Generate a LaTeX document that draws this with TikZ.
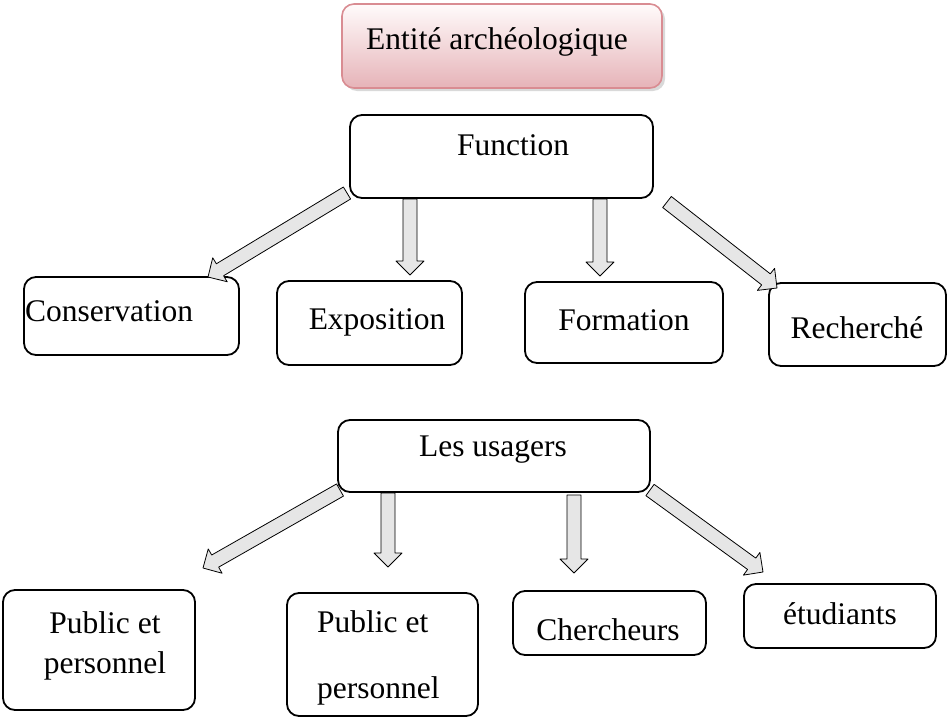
\documentclass[tikz,border=0pt]{standalone}
\usepackage{fontspec}
\setmainfont{Liberation Serif}
\usetikzlibrary{calc,fit,shadows}
\definecolor{TitleLine}{HTML}{D98C92}
\definecolor{TitleTop}{HTML}{FFFBFB}
\definecolor{TitleBottom}{HTML}{E6B3B8}
\definecolor{ArrowFill}{HTML}{E6E6E6}

\begin{document}
\begin{tikzpicture}[
  x=1pt,
  y=-1pt,
  line join=round,
  box/.style={draw=black,line width=1.8pt,rounded corners=12pt,inner sep=0pt},
  title box/.style={draw=TitleLine,line width=1.6pt,rounded corners=12pt,
    inner sep=0pt,top color=TitleTop,bottom color=TitleBottom,
    drop shadow={shadow xshift=3pt,shadow yshift=-3pt,opacity=0.3}},
  box text/.style={font=\fontsize{31.5}{40}\selectfont,inner sep=0pt},
  block arrow/.style={fill=ArrowFill,draw=black,line width=0.8pt}
]
\useasboundingbox (0,0) rectangle (948,718);

% Hollow block arrow from #1 (tail) to #2 (tip).
\def\ShaftW{7pt}
\def\HeadW{14pt}
\def\HeadL{14pt}
\newcommand{\DrawBlockArrow}[2]{%
  \coordinate (hb) at ($(#2)!\HeadL!(#1)$);
  \path[block arrow]
    ($(#1)!\ShaftW!90:(#2)$) -- ($(hb)!\ShaftW!90:(#2)$)
    -- ($(hb)!\HeadW!90:(#2)$) -- (#2)
    -- ($(hb)!\HeadW!-90:(#2)$) -- ($(hb)!\ShaftW!-90:(#2)$)
    -- ($(#1)!\ShaftW!-90:(#2)$) -- cycle;%
}

% Title.
\node[title box,fit={(342,4) (662,88)}] (title) {};
\node[box text,anchor=base] (title-t) at (497,49) {Entité archéologique};

% Function and its four branches.
\node[box,fit={(350,115) (653,198)}] (fun) {};
\node[box text,anchor=base] (fun-t) at (513,155) {Function};

\node[box,fit={(24,277) (239,355)}] (cons) {};
\node[box text,anchor=base west] (cons-t) at (25,321) {Conservation};
\node[box,fit={(277,281) (462,365)}] (expo) {};
\node[box text,anchor=base] (expo-t) at (377,329) {Exposition};
\node[box,fit={(525,282) (723,363)}] (form) {};
\node[box text,anchor=base] (form-t) at (624,330) {Formation};
\node[box,fit={(769,283) (946,366)}] (rech) {};
\node[box text,anchor=base] (rech-t) at (857,338) {Recherché};

% Users and their four branches.
\node[box,fit={(338,420) (650,492)}] (usag) {};
\node[box text,anchor=base] (usag-t) at (493,456) {Les usagers};

\node[box,fit={(3,590) (195,710)}] (pub1) {};
\node[box text,align=center] (pub1-t) at (105,646) {Public et\\personnel};
\node[box,fit={(287,593) (478,716)}] (pub2) {};
\node[box text,align=left,anchor=west] (pub2-t) at (317,658)
  {Public et\\[26pt]personnel};
\node[box,fit={(513,591) (706,655)}] (cher) {};
\node[box text,anchor=base] (cher-t) at (608,640) {Chercheurs};
\node[box,fit={(744,584) (936,648)}] (etud) {};
\node[box text,anchor=base] (etud-t) at (840,624) {étudiants};

% Arrow ends.
\coordinate (f1s) at (347,193);  \coordinate (f1e) at (208,277);
\coordinate (f2s) at (410,199);  \coordinate (f2e) at (410,275);
\coordinate (f3s) at (600,199);  \coordinate (f3e) at (600,276);
\coordinate (f4s) at (667,202);  \coordinate (f4e) at (777,288);
\coordinate (u1s) at (340,490);  \coordinate (u1e) at (203,568);
\coordinate (u2s) at (388,493);  \coordinate (u2e) at (388,567);
\coordinate (u3s) at (574,495);  \coordinate (u3e) at (574,573);
\coordinate (u4s) at (650,490);  \coordinate (u4e) at (763,572);

\foreach \s/\e in {f1s/f1e,f2s/f2e,f3s/f3e,f4s/f4e,
                   u1s/u1e,u2s/u2e,u3s/u3e,u4s/u4e} {
  \DrawBlockArrow{\s}{\e}
}

\end{tikzpicture}
\end{document}
